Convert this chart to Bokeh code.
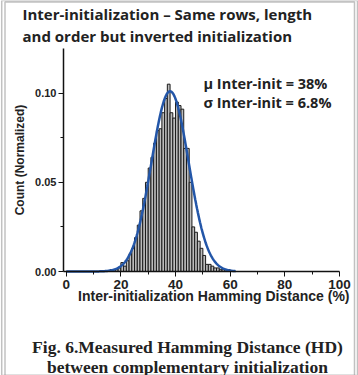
from bokeh.plotting import figure
from bokeh.models import Range1d, Label, BoxAnnotation, FixedTicker, CustomJSTickFormatter
from bokeh.embed import file_html
from bokeh.resources import INLINE
import numpy as np

# ---------------- data ----------------
hd_bins = list(range(15, 60))  # Hamming distance (%) bins, width 1
count_norm = [0.0005, 0.001, 0.001, 0.001, 0.002, 0.005, 0.003, 0.006, 0.010, 0.013,
              0.019, 0.026, 0.034, 0.041, 0.050, 0.058, 0.064, 0.072, 0.079, 0.080,
              0.089, 0.097, 0.105, 0.089, 0.086, 0.095, 0.093, 0.091, 0.069, 0.069,
              0.050, 0.025, 0.022, 0.017, 0.013, 0.009, 0.004, 0.004, 0.003, 0.002,
              0.002, 0.001, 0.001, 0.001, 0.001]
mu = 38.0
sigma = 6.8
fit_peak = 0.101
x_ticks = [0, 20, 40, 60, 80, 100]
x_minor = [10, 30, 50, 70, 90]
y_ticks = [0.00, 0.05, 0.10]
y_minor = [0.025, 0.075]
x_axis_span = (-1, 100)
y_axis_span = (0.0, 0.125)

title_lines = ["Inter-initialization \u2013 Same rows, length",
               "and order but inverted initialization"]
stat_lines = ["\u03bc Inter-init = 38%", "\u03c3 Inter-init = 6.8%"]
x_label = "Inter-initialization Hamming Distance (%)"
y_label = "Count (Normalized)"
caption_lines = ["Fig. 6.Measured Hamming Distance (HD)",
                 "between complementary initialization"]

# ---------------- layout (pixels on the canvas) ----------------
W, H = 358, 375
AX_LEFT, AX_RIGHT = 63, 339     # pixel of x=-1 and x=100
AX_TOP, AX_BOTTOM = 48, 271     # pixel of y=0.125 and y=0
sx = (AX_RIGHT - AX_LEFT) / (x_axis_span[1] - x_axis_span[0])
sy = (AX_BOTTOM - AX_TOP) / (y_axis_span[1] - y_axis_span[0])


def X(px):
    return x_axis_span[0] + (px - AX_LEFT) / sx


def Y(py):
    return y_axis_span[0] + (AX_BOTTOM - py) / sy


p = figure(width=W, height=H, output_backend="svg", toolbar_location=None,
           x_range=Range1d(X(0), X(W)), y_range=Range1d(Y(H), Y(0)),
           min_border=0)
p.outline_line_color = None
p.background_fill_color = "white"
p.border_fill_color = "white"
p.grid.visible = False
p.title.visible = False

p.quad(left=[b for b in hd_bins], right=[b + 1 for b in hd_bins],
       bottom=0, top=count_norm, fill_color="#bcbcbc", line_color="#1a1a1a", line_width=1)

xf = np.linspace(0, 62, 400)
yf = fit_peak * np.exp(-(xf - mu) ** 2 / (2 * sigma ** 2))
p.line(xf, yf, line_color="#2356a8", line_width=2.5)

for ax in (p.xaxis[0], p.yaxis[0]):
    ax.axis_line_color = "#111111"
    ax.axis_line_width = 1.5
    ax.major_tick_line_color = "#111111"
    ax.minor_tick_line_color = "#111111"
    ax.major_tick_in = 0
    ax.major_tick_out = 5
    ax.minor_tick_in = 0
    ax.minor_tick_out = 3
    ax.major_label_text_font = "Liberation Sans"
    ax.major_label_text_font_style = "bold"
    ax.major_label_text_color = "#222222"

p.xaxis.fixed_location = y_axis_span[0]
p.xaxis.bounds = x_axis_span
p.yaxis.fixed_location = x_axis_span[0]
p.yaxis.bounds = y_axis_span
p.xaxis.ticker = FixedTicker(ticks=x_ticks, minor_ticks=x_minor)
p.yaxis.ticker = FixedTicker(ticks=y_ticks, minor_ticks=y_minor)
p.yaxis.formatter = CustomJSTickFormatter(code="return tick.toFixed(2);")
p.xaxis.major_label_text_font_size = "13.5px"
p.yaxis.major_label_text_font_size = "11px"
p.xaxis.major_label_standoff = 3
p.yaxis.major_label_standoff = 2

p.yaxis.axis_label = y_label
p.yaxis.axis_label_text_font = "Liberation Sans"
p.yaxis.axis_label_text_font_style = "bold"
p.yaxis.axis_label_text_font_size = "12px"
p.yaxis.axis_label_text_color = "#222222"
p.yaxis.axis_label_standoff = 5

sans = "Open Sans"
for i, t in enumerate(title_lines):
    p.add_layout(Label(x=X(22), y=Y(13 + 22 * i), text=t, text_font=sans,
                       text_font_style="bold", text_font_size="15px",
                       text_baseline="middle", text_align="left", text_color="#222222"))
for i, t in enumerate(stat_lines):
    p.add_layout(Label(x=X(203), y=Y(83 + 19 * i), text=t, text_font=sans,
                       text_font_style="bold", text_font_size="14.5px",
                       text_baseline="middle", text_align="left", text_color="#222222"))
p.add_layout(Label(x=X(349), y=Y(295), text=x_label, text_font="Liberation Sans",
                   text_font_style="bold", text_font_size="14px",
                   text_baseline="middle", text_align="right", text_color="#222222"))
for i, t in enumerate(caption_lines):
    p.add_layout(Label(x=X(187), y=Y(346 + 20 * i), text=t, text_font="Liberation Serif",
                       text_font_style="bold", text_font_size="17.5px",
                       text_baseline="middle", text_align="center", text_color="#222222"))

# frame borders (double on the sides)
p.add_layout(BoxAnnotation(left=X(4.5), right=X(354), top=Y(1.5), bottom=None,
                           fill_alpha=0, line_color="#333333", line_width=1.5))
p.add_layout(BoxAnnotation(left=X(1.2), right=X(357), top=None, bottom=None,
                           fill_alpha=0, line_color="#333333", line_width=1.5))

open("out.html", "w").write(file_html(p, INLINE))
